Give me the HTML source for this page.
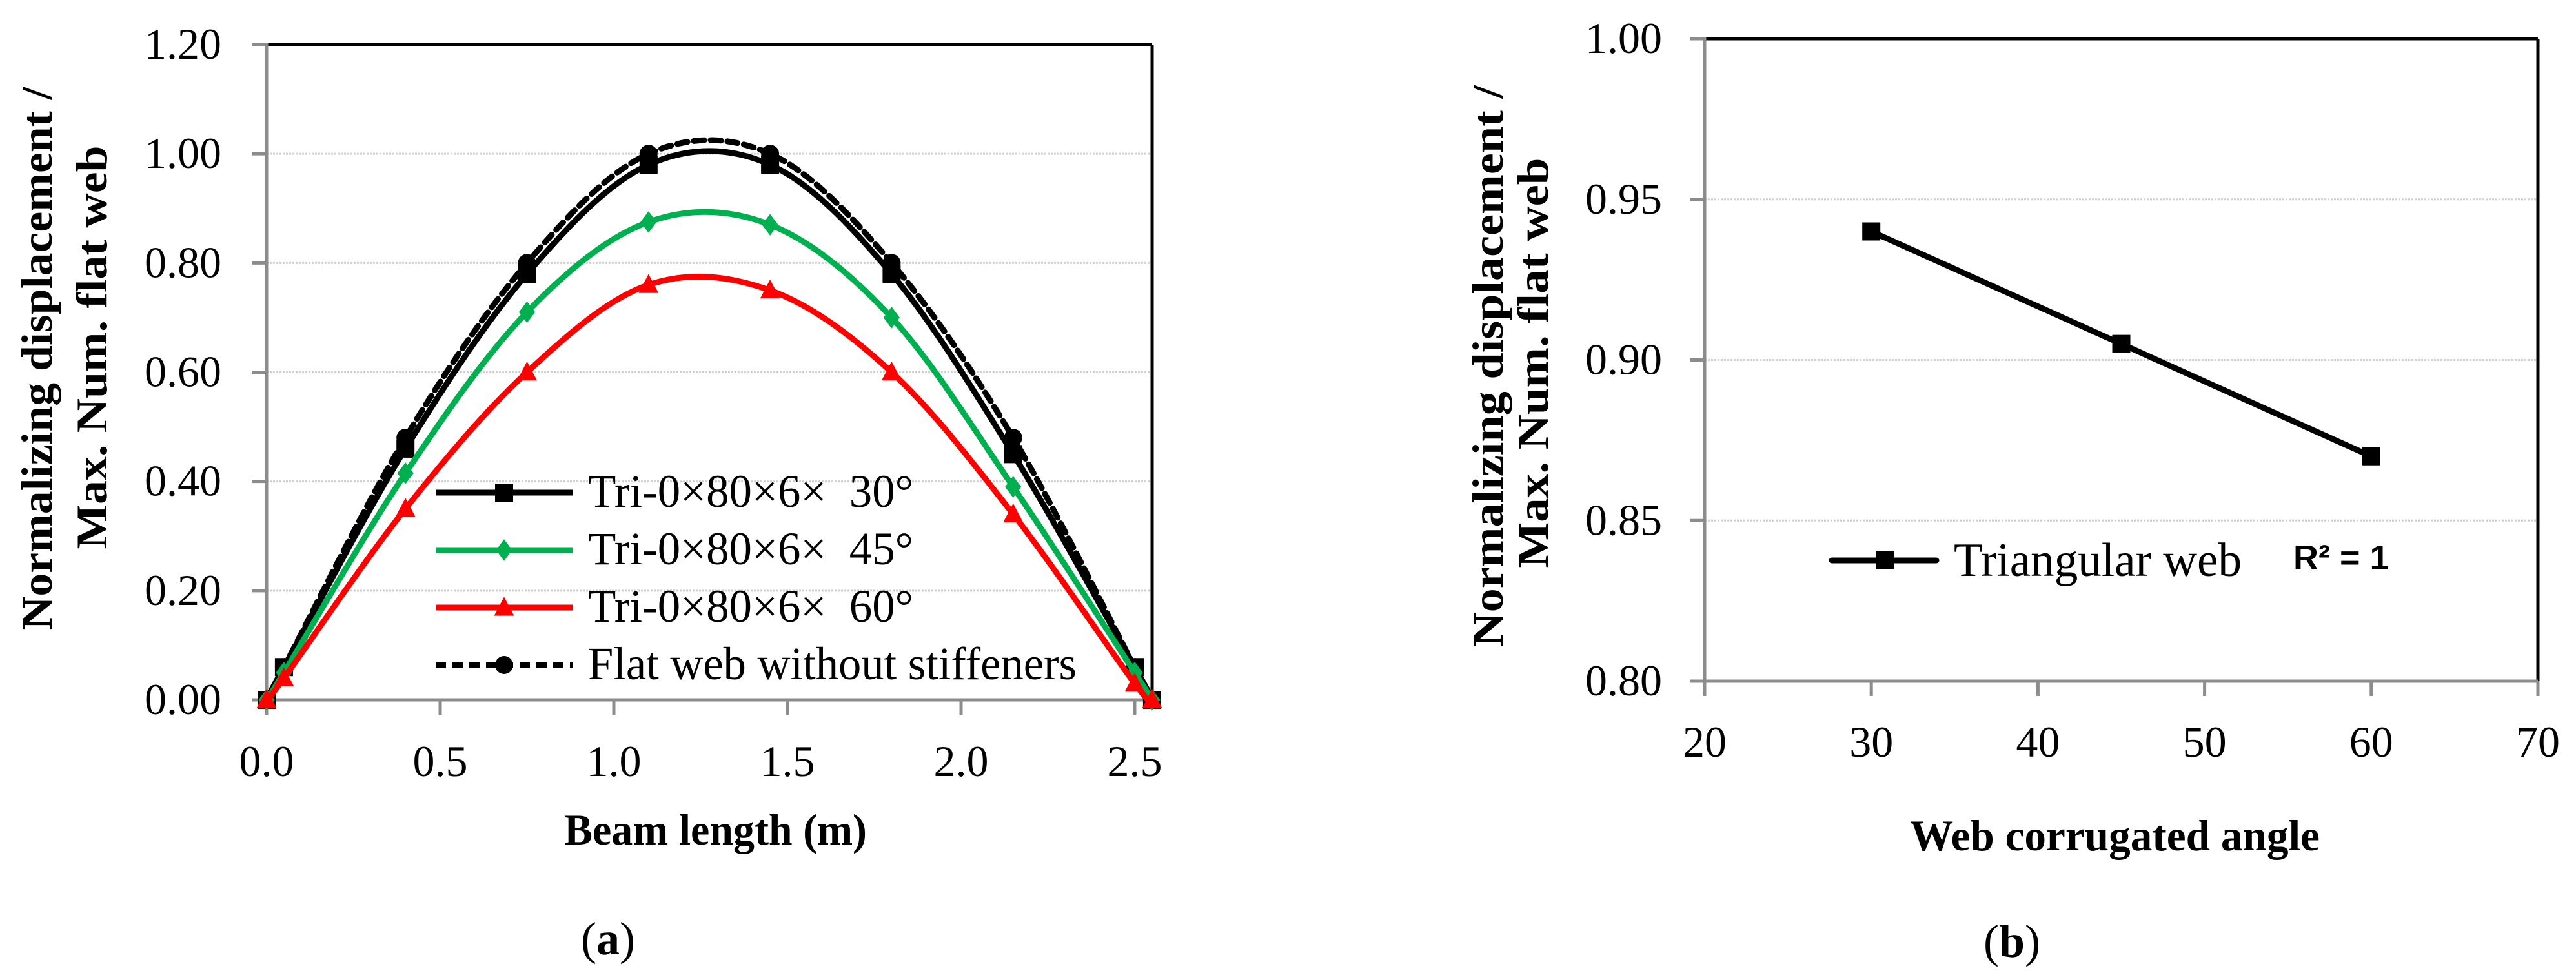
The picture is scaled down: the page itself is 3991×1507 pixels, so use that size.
<!DOCTYPE html>
<html><head><meta charset="utf-8"><style>
html,body{margin:0;padding:0;background:#fff;}
svg{display:block;}
svg text{font-family:"Liberation Serif","Times New Roman",serif;fill:#000;}
</style></head><body>
<svg id="fig" width="3991" height="1507" viewBox="0 0 3991 1507" xmlns="http://www.w3.org/2000/svg" font-family="Liberation Serif, serif">
<g id="chartA"></g>
<g id="chartB"></g>
</svg>
<script>
// ---- Chart (a) data ----
const aX = [0, 0.05, 0.4, 0.75, 1.1, 1.45, 1.8, 2.15, 2.5, 2.55];
const a30 = [0, 0.06, 0.46, 0.78, 0.98, 0.98, 0.78, 0.45, 0.06, 0];
const a45 = [0, 0.05, 0.415, 0.71, 0.875, 0.87, 0.70, 0.39, 0.05, 0];
const a60 = [0, 0.04, 0.35, 0.60, 0.76, 0.75, 0.60, 0.34, 0.03, 0];
const aFlat = [0, 0.06, 0.48, 0.80, 1.00, 1.00, 0.80, 0.48, 0.06, 0];
const aYTicks = [0, 0.2, 0.4, 0.6, 0.8, 1.0, 1.2];
const aYTickLabels = ["0.00","0.20","0.40","0.60","0.80","1.00","1.20"];
const aXTicks = [0, 0.5, 1.0, 1.5, 2.0, 2.5];
const aXTickLabels = ["0.0","0.5","1.0","1.5","2.0","2.5"];
const aLegend = ["Tri-0×80×6×\u00A0\u00A030°","Tri-0×80×6×\u00A0\u00A045°","Tri-0×80×6×\u00A0\u00A060°","Flat web without stiffeners"];
// ---- Chart (b) data ----
const bX = [30, 45, 60];
const bY = [0.94, 0.905, 0.87];
const bYTicks = [0.80, 0.85, 0.90, 0.95, 1.00];
const bYTickLabels = ["0.80","0.85","0.90","0.95","1.00"];
const bXTicks = [20, 30, 40, 50, 60, 70];
const bXTickLabels = ["20","30","40","50","60","70"];

const NS = "http://www.w3.org/2000/svg";
const SERIF = "'Liberation Serif', 'Times New Roman', serif";
function mk(parent, tag, attrs, txt){
  const e = document.createElementNS(NS, tag);
  if (tag === "text") e.setAttribute("style", "font-family:" + SERIF);
  for (const k in attrs) e.setAttribute(k, attrs[k]);
  if (txt !== undefined) e.textContent = txt;
  parent.appendChild(e);
  return e;
}
function smoothPath(pts){
  let d = "M" + pts[0][0] + "," + pts[0][1];
  for (let i = 0; i < pts.length - 1; i++){
    const p0 = pts[Math.max(0,i-1)], p1 = pts[i], p2 = pts[i+1], p3 = pts[Math.min(pts.length-1,i+2)];
    const t = 1/6;
    const c1 = [p1[0] + (p2[0]-p0[0])*t, p1[1] + (p2[1]-p0[1])*t];
    const c2 = [p2[0] - (p3[0]-p1[0])*t, p2[1] - (p3[1]-p1[1])*t];
    d += " C" + c1.join(",") + " " + c2.join(",") + " " + p2.join(",");
  }
  return d;
}
function marker(g, type, x, y, color, s){
  let e;
  if (type === "square") e = mk(g, "rect", {x:x-s/2, y:y-s/2, width:s, height:s, fill:color});
  else if (type === "diamond") e = mk(g, "polygon", {points:`${x},${y-s*0.6} ${x+s*0.45},${y} ${x},${y+s*0.6} ${x-s*0.45},${y}`, fill:color});
  else if (type === "triangle") e = mk(g, "polygon", {points:`${x},${y-s*0.6} ${x+s*0.55},${y+s*0.45} ${x-s*0.55},${y+s*0.45}`, fill:color});
  else e = mk(g, "circle", {cx:x, cy:y, r:s/2, fill:color});
  return e;
}

// ===== Chart A =====
(function(){
  const g = document.getElementById("chartA");
  const L=413, R=1785, T=69, B=1084;
  const xsA = v => L + v*538;
  const ys = v => B - v/1.2*(B-T);
  aYTicks.forEach((t,i)=>{
    if (t>0 && t<1.2){
      const gl = mk(g,"line",{x1:L,x2:R,y1:ys(t),y2:ys(t),stroke:"#d0d0d0","stroke-width":3,"stroke-dasharray":"3,2"});
      
      
    }
  });
  mk(g,"line",{x1:L,x2:R,y1:T,y2:T,stroke:"#000","stroke-width":5});
  mk(g,"line",{x1:R,x2:R,y1:T,y2:B,stroke:"#000","stroke-width":5});
  const ya = mk(g,"line",{x1:L,x2:L,y1:T-2,y2:B+2,stroke:"#8c8c8c","stroke-width":5});
   
  const xa = mk(g,"line",{x1:L,x2:R,y1:B,y2:B,stroke:"#8c8c8c","stroke-width":5});
   
  aYTicks.forEach((t,i)=>{
    mk(g,"line",{x1:L-23,x2:L,y1:ys(t),y2:ys(t),stroke:"#8c8c8c","stroke-width":5});
    const tl = mk(g,"text",{x:343,y:ys(t)+22,"text-anchor":"end","font-size":68},aYTickLabels[i]);
    
    
  });
  aXTicks.forEach((t,i)=>{
    mk(g,"line",{x1:xsA(t),x2:xsA(t),y1:B,y2:B+23,stroke:"#8c8c8c","stroke-width":5});
    const tl = mk(g,"text",{x:xsA(t),y:1202,"text-anchor":"middle","font-size":68},aXTickLabels[i]);
    
    
  });
  const series = [
    {name:"series-30deg", ys:a30, color:"#000", m:"square", dash:null},
    {name:"series-45deg", ys:a45, color:"#00B050", m:"diamond", dash:null},
    {name:"series-60deg", ys:a60, color:"#FF0000", m:"triangle", dash:null},
    {name:"series-flat-web", ys:aFlat, color:"#000", m:"circle", dash:"16,10"}
  ];
  const order = [3,0,1,2];
  order.forEach(si=>{
    const s = series[si];
    const sg = mk(g,"g",{});
    
    
    const pts = aX.map((x,i)=>[xsA(x), ys(s.ys[i])]);
    const p = mk(sg,"path",{d:smoothPath(pts),fill:"none",stroke:s.color,"stroke-width":9,"stroke-linecap":"round"});
    if (s.dash) p.setAttribute("stroke-dasharray", s.dash);
    
    pts.forEach(pt=>{
      const mm = marker(sg, s.m, pt[0], pt[1], s.color, 28);
      
      
    });
  });
  const lg = mk(g,"g",{});
  
  
  const baselines = [785, 874, 963, 1052];
  [0,1,2,3].forEach(i=>{
    const s = series[i];
    const ly = baselines[i] - 22;
    const eg = mk(lg,"g",{});
    
    
    const ln = mk(eg,"line",{x1:675,x2:888,y1:ly,y2:ly,stroke:s.color,"stroke-width":9});
    if (s.dash) ln.setAttribute("stroke-dasharray","16,10");
    marker(eg, s.m, 781, ly, s.color, 28);
    mk(eg,"text",{x:911,y:baselines[i],"font-size":72,textLength:(i<3?504:757),lengthAdjust:"spacingAndGlyphs"},aLegend[i]);
  });
  const xt = mk(g,"text",{x:874,y:1308,"font-size":68,"font-weight":"bold",textLength:469,lengthAdjust:"spacingAndGlyphs"},"Beam length (m)");
   
  const yt1 = mk(g,"text",{x:0,y:0,"font-size":68,"font-weight":"bold","text-anchor":"middle",transform:"translate(80,555) rotate(-90)",textLength:841,lengthAdjust:"spacingAndGlyphs"},"Normalizing displacement /");
   
  const yt2 = mk(g,"text",{x:0,y:0,"font-size":68,"font-weight":"bold","text-anchor":"middle",transform:"translate(165,538) rotate(-90)",textLength:625,lengthAdjust:"spacingAndGlyphs"},"Max. Num. flat web");
   
  const cap = mk(g,"text",{x:942,y:1478,"font-size":72,"text-anchor":"middle"},"");
   
  mk(cap,"tspan",{},"(");
  mk(cap,"tspan",{"font-weight":"bold"},"a");
  mk(cap,"tspan",{},")");
})();

// ===== Chart B =====
(function(){
  const g = document.getElementById("chartB");
  const L=2641, R=3932, T=60, B=1055;
  const xs = v => L + (v-20)/50*(R-L);
  const ys = v => B - (v-0.8)/0.2*(B-T);
  bYTicks.forEach(t=>{
    if (t>0.8 && t<1.0){
      const gl = mk(g,"line",{x1:L,x2:R,y1:ys(t),y2:ys(t),stroke:"#d0d0d0","stroke-width":3,"stroke-dasharray":"3,2"});
      
      
    }
  });
  mk(g,"line",{x1:L,x2:R,y1:T,y2:T,stroke:"#000","stroke-width":5});
  mk(g,"line",{x1:R,x2:R,y1:T,y2:B,stroke:"#000","stroke-width":5});
  const ya = mk(g,"line",{x1:L,x2:L,y1:T-2,y2:B+2,stroke:"#8c8c8c","stroke-width":5});
   
  const xa = mk(g,"line",{x1:L,x2:R,y1:B,y2:B,stroke:"#8c8c8c","stroke-width":5});
   
  bYTicks.forEach((t,i)=>{
    mk(g,"line",{x1:L-23,x2:L,y1:ys(t),y2:ys(t),stroke:"#8c8c8c","stroke-width":5});
    const tl = mk(g,"text",{x:2575,y:ys(t)+22,"text-anchor":"end","font-size":68},bYTickLabels[i]);
    
    
  });
  bXTicks.forEach((t,i)=>{
    mk(g,"line",{x1:xs(t),x2:xs(t),y1:B,y2:B+23,stroke:"#8c8c8c","stroke-width":5});
    const tl = mk(g,"text",{x:xs(t),y:1172,"text-anchor":"middle","font-size":68},bXTickLabels[i]);
    
    
  });
  const sg = mk(g,"g",{});
  
  
  const pts = bX.map((x,i)=>[xs(x), ys(bY[i])]);
  const ln = mk(sg,"polyline",{points:pts.map(p=>p.join(",")).join(" "),fill:"none",stroke:"#000","stroke-width":9,"stroke-linecap":"round"});
  
  pts.forEach(p=>{
    const m = marker(sg,"square",p[0],p[1],"#000",28);
    
    
  });
  const lg = mk(g,"g",{});
  
  
  mk(lg,"line",{x1:2838,x2:3000,y1:868,y2:868,stroke:"#000","stroke-width":9,"stroke-linecap":"round"});
  marker(lg,"square",2921,868,"#000",28);
  mk(lg,"text",{x:3027,y:892,"font-size":74,textLength:446,lengthAdjust:"spacingAndGlyphs"},"Triangular web");
  const r2 = mk(g,"text",{x:3553,y:882,"font-size":54,"font-weight":"bold"},"R² = 1");
  r2.setAttribute('style','font-family:"Liberation Sans",sans-serif');
   
  const xt = mk(g,"text",{x:2959,y:1317,"font-size":68,"font-weight":"bold",textLength:635,lengthAdjust:"spacingAndGlyphs"},"Web corrugated angle");
   
  const yt1 = mk(g,"text",{x:0,y:0,"font-size":68,"font-weight":"bold","text-anchor":"middle",transform:"translate(2328,567) rotate(-90)",textLength:870,lengthAdjust:"spacingAndGlyphs"},"Normalizing displacement /");
   
  const yt2 = mk(g,"text",{x:0,y:0,"font-size":68,"font-weight":"bold","text-anchor":"middle",transform:"translate(2398,562) rotate(-90)",textLength:635,lengthAdjust:"spacingAndGlyphs"},"Max. Num. flat web");
   
  const cap = mk(g,"text",{x:3117,y:1482,"font-size":72,"text-anchor":"middle"},"");
   
  mk(cap,"tspan",{},"(");
  mk(cap,"tspan",{"font-weight":"bold"},"b");
  mk(cap,"tspan",{},")");
})();
</script>
</body></html>
